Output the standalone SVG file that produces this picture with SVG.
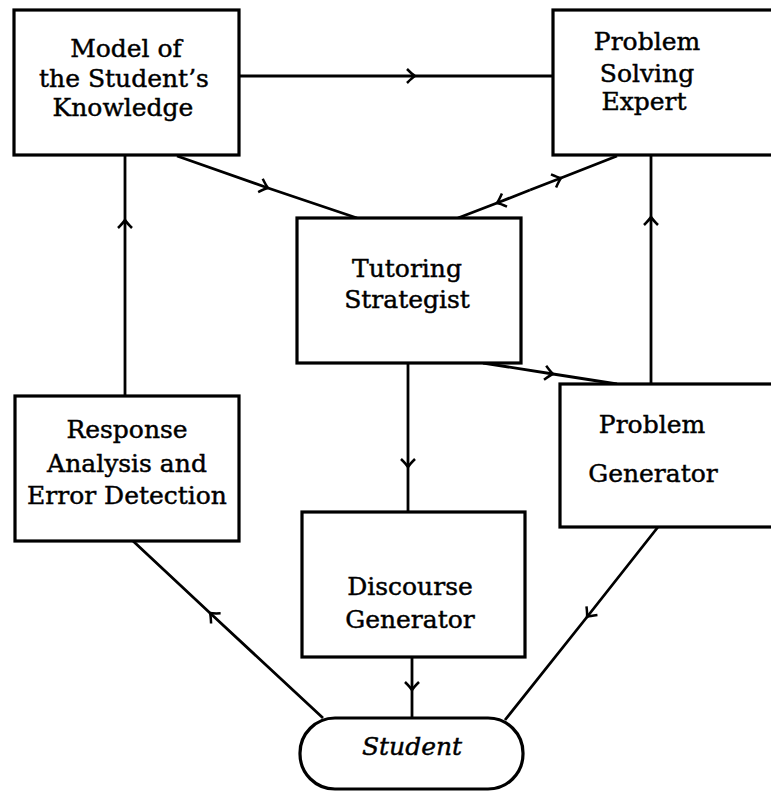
<svg xmlns="http://www.w3.org/2000/svg" width="771" height="792" viewBox="0 0 771 792">
  <style>
    .box { fill: #fff; stroke: #000; stroke-width: 3.2; }
    .lbl { font-family: "DejaVu Serif", "Liberation Serif", serif; font-size: 25px; fill: #000; stroke: #000; stroke-width: 0.45; text-anchor: middle; }
    .ital { font-style: italic; }
    .edge { fill: none; stroke: #000; stroke-width: 2.8; marker-mid: url(#chev); }
  </style>
  <defs>
    <!-- open chevron drawn at the middle vertex of each connector -->
    <marker id="chev" markerUnits="userSpaceOnUse" markerWidth="20" markerHeight="20" refX="0" refY="0" orient="auto" overflow="visible">
      <path d="M-8,-7 Q-2.5,-1.5 0,0 Q-2.5,1.5 -8,7" fill="none" stroke="#000" stroke-width="2.5"/>
    </marker>
  </defs>
  <rect width="771" height="792" fill="#fff"/>

  <g id="connectors">
    <path class="edge" d="M239,76 L415,76 L553,76"/>
    <path class="edge" d="M177,156 L268,188 L357,218"/>
    <path class="edge" d="M530,190 L561,178 L617,156"/>
    <path class="edge" d="M530,190 L497,203 L458,218"/>
    <path class="edge" d="M125,396 L125,220 L125,155"/>
    <path class="edge" d="M651,384 L651,217 L651,155"/>
    <path class="edge" d="M483,363 L553,374 L617,384"/>
    <path class="edge" d="M408,363 L408,467 L408,512"/>
    <path class="edge" d="M412,657 L412,690 L412,718"/>
    <path class="edge" d="M323,718 L210,613 L133,541"/>
    <path class="edge" d="M658,527 L587,617 L505,720"/>
  </g>

  <g id="student-model">
    <rect class="box" x="14" y="10" width="225" height="145"/>
    <text class="lbl" x="126" y="57">Model of</text>
    <text class="lbl" x="124" y="87">the Student’s</text>
    <text class="lbl" x="123" y="116">Knowledge</text>
  </g>

  <g id="problem-solving-expert">
    <rect class="box" x="553" y="10" width="240" height="145"/>
    <text class="lbl" x="647" y="50">Problem</text>
    <text class="lbl" x="647" y="82">Solving</text>
    <text class="lbl" x="644" y="110">Expert</text>
  </g>

  <g id="tutoring-strategist">
    <rect class="box" x="297" y="218" width="224" height="145"/>
    <text class="lbl" x="407" y="277">Tutoring</text>
    <text class="lbl" x="407" y="308">Strategist</text>
  </g>

  <g id="response-analysis">
    <rect class="box" x="15" y="396" width="224" height="145"/>
    <text class="lbl" x="127" y="438">Response</text>
    <text class="lbl" x="127" y="472">Analysis and</text>
    <text class="lbl" x="127" y="504">Error Detection</text>
  </g>

  <g id="problem-generator">
    <rect class="box" x="560" y="384" width="240" height="143"/>
    <text class="lbl" x="652" y="433">Problem</text>
    <text class="lbl" x="653" y="482">Generator</text>
  </g>

  <g id="discourse-generator">
    <rect class="box" x="302" y="512" width="223" height="145"/>
    <text class="lbl" x="410" y="595">Discourse</text>
    <text class="lbl" x="410" y="628">Generator</text>
  </g>

  <g id="student">
    <rect class="box" x="300" y="718" width="223" height="71" rx="35" ry="35"/>
    <text class="lbl ital" x="412" y="755">Student</text>
  </g>
</svg>
